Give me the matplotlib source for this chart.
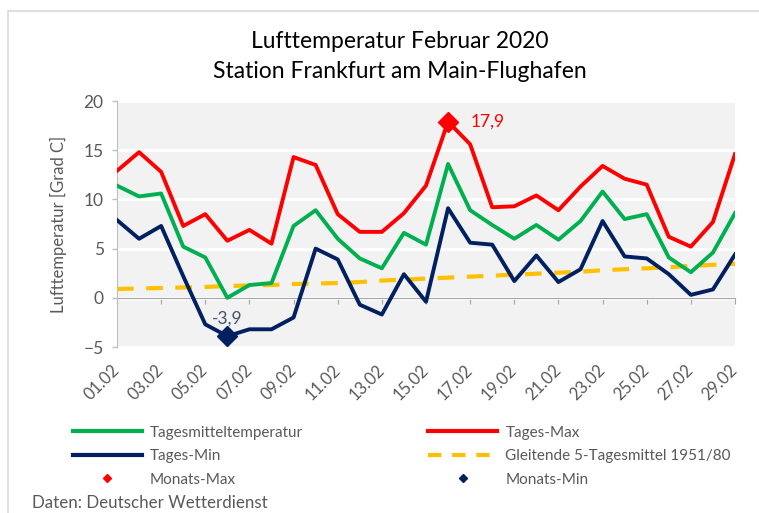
import matplotlib
matplotlib.use("Agg")
import matplotlib.pyplot as plt
from matplotlib.lines import Line2D
from matplotlib.patches import Rectangle

# data (Frankfurt/Main airport, Feb 2020)
days = list(range(1, 30))
tick_days = list(range(1, 30, 2))
tick_labels = [f"{d:02d}.02" for d in tick_days]

t_mean = [11.4, 10.3, 10.6, 5.2, 4.1, 0.0, 1.3, 1.5, 7.3, 8.9, 6.0, 4.0, 3.0, 6.6, 5.4,
          13.6, 8.9, 7.4, 6.0, 7.4, 5.9, 7.8, 10.8, 8.0, 8.5, 4.1, 2.6, 4.6, 8.6]
t_max = [12.9, 14.8, 12.8, 7.3, 8.5, 5.8, 6.9, 5.5, 14.3, 13.5, 8.5, 6.7, 6.7, 8.6, 11.4,
         17.9, 15.6, 9.2, 9.3, 10.4, 8.9, 11.3, 13.4, 12.1, 11.5, 6.2, 5.2, 7.7, 14.6]
t_min = [7.9, 6.0, 7.3, 2.2, -2.7, -3.9, -3.2, -3.2, -2.0, 5.0, 3.9, -0.7, -1.7, 2.4, -0.4,
         9.1, 5.6, 5.4, 1.7, 4.3, 1.6, 2.9, 7.8, 4.2, 4.0, 2.4, 0.3, 0.85, 4.4]
clim_5d = [0.9, 0.95, 1.0, 1.05, 1.1, 1.2, 1.25, 1.3, 1.4, 1.45, 1.5, 1.6, 1.75, 1.85, 1.95,
           2.05, 2.15, 2.25, 2.35, 2.45, 2.55, 2.65, 2.8, 2.9, 3.0, 3.1, 3.25, 3.35, 3.45]

max_day, max_val = 16, 17.9
min_day, min_val = 6, -3.9

GREEN = "#00B050"
RED = "#FF0000"
NAVY = "#002060"
YELLOW = "#FFC000"
GREY_TXT = "#595959"

plt.rcParams["font.family"] = ["Lato", "DejaVu Sans"]

fig = plt.figure(figsize=(7.59, 5.13), dpi=100)
ax = fig.add_axes([117 / 759, 1 - 347 / 513, (735 - 117) / 759, (347 - 101) / 513])
ax.set_facecolor("#F2F2F2")

# chart border (light grey frame)
fig.patches.append(Rectangle((8 / 759, -0.1), 1.2, 1 - 11 / 513 + 0.1, transform=fig.transFigure,
                             fill=False, edgecolor="#D9D9D9", linewidth=1.2, zorder=0))

ax.plot(days, clim_5d, color=YELLOW, lw=3, dashes=(4, 3), zorder=2)
ax.plot(days, t_mean, color=GREEN, lw=2.8, zorder=3)
ax.plot(days, t_max, color=RED, lw=2.8, zorder=3)
ax.plot(days, t_min, color=NAVY, lw=2.8, zorder=3)
ax.plot([max_day], [max_val], marker="D", color=RED, ms=10, zorder=4)
ax.plot([min_day], [min_val], marker="D", color=NAVY, ms=10, zorder=4)
ax.text(max_day + 1.0, max_val, "17,9", color=RED, fontsize=12.5, va="center", ha="left")
ax.text(min_day, min_val + 1.0, "-3,9", color="#44546A", fontsize=12.5, va="bottom", ha="center")

ax.set_xlim(1, 29)
ax.set_ylim(-5, 20)
ax.set_yticks([-5, 0, 5, 10, 15, 20])
ax.grid(axis="y", color="white", lw=2)
ax.set_axisbelow(True)

for side in ["top", "right"]:
    ax.spines[side].set_visible(False)
ax.spines["left"].set_color("#BFBFBF")
ax.spines["bottom"].set_position(("data", 0))
ax.spines["bottom"].set_color("#A6A6A6")
ax.spines["bottom"].set_zorder(1)
ax.tick_params(axis="y", colors="#BFBFBF", labelcolor=GREY_TXT, labelsize=12.5,
               length=3.6, width=1, pad=6)
ax.set_xticks(tick_days)
ax.tick_params(axis="x", colors="#A6A6A6", length=4, labelbottom=False)

sec = ax.secondary_xaxis(0)
sec.set_xticks(tick_days)
sec.set_xticklabels(tick_labels, rotation=45, ha="right", va="center", rotation_mode="anchor")
sec.tick_params(length=0, labelsize=12, labelcolor=GREY_TXT, pad=15)
sec.spines["bottom"].set_visible(False)

ax.set_ylabel("Lufttemperatur [Grad C]", fontsize=12, color=GREY_TXT, labelpad=12)

fig.text(400 / 759, 1 - 42 / 513, "Lufttemperatur Februar 2020", ha="center", va="center",
         fontsize=16.5, color="black")
fig.text(400 / 759, 1 - 72 / 513, "Station Frankfurt am Main-Flughafen", ha="center", va="center",
         fontsize=16.5, color="black")

handles = [
    Line2D([], [], color=GREEN, lw=3),
    Line2D([], [], color=NAVY, lw=3),
    Line2D([], [], color=RED, marker="D", ls="none", ms=4),
    Line2D([], [], color=RED, lw=3),
    Line2D([], [], color=YELLOW, lw=3, dashes=(3.2, 2.6)),
    Line2D([], [], color=NAVY, marker="D", ls="none", ms=4),
]
labels = ["Tagesmitteltemperatur", "Tages-Min", "Monats-Max",
          "Tages-Max", "Gleitende 5-Tagesmittel 1951/80", "Monats-Min"]
fig.legend(handles, labels, ncol=2, loc="upper left", bbox_to_anchor=(59 / 759, 1 - 412 / 513),
           frameon=False, fontsize=11, handlelength=4.5, handletextpad=0.55,
           columnspacing=8.2, labelspacing=0.62, labelcolor=GREY_TXT)

fig.text(32 / 759, 1 - 503 / 513, "Daten: Deutscher Wetterdienst", ha="left", va="center",
         fontsize=12.2, color=GREY_TXT)

fig.savefig("out.png", dpi=100)
